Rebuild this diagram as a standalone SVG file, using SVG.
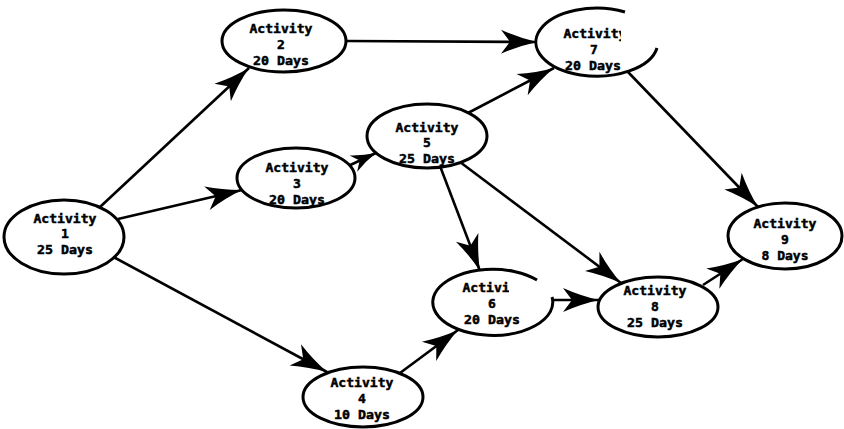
<svg xmlns="http://www.w3.org/2000/svg" width="844" height="429" viewBox="0 0 844 429">
  <style>
    .edge { fill: none; stroke: #000; stroke-width: 2.6; marker-end: url(#head); }
    .edge.short { marker-end: url(#head-sm); }
    .shape { fill: #fff; stroke: #000; stroke-width: 3; }
    .bg { fill: #fff; stroke: none; }
    .rim { fill: none; stroke: #000; stroke-width: 3; }
    text { font-family: "DejaVu Sans Mono", "Liberation Mono", monospace; font-weight: bold; font-size: 13px; text-anchor: middle; fill: #000; stroke: #000; stroke-width: 0.5; }
  </style>
  <defs>
    <marker id="head" markerUnits="userSpaceOnUse" viewBox="-40 -14 42 28" markerWidth="42" markerHeight="28" refX="0" refY="0" orient="auto">
      <path d="M0,0 Q-18,-4 -36,-12 L-27,0 L-36,12 Q-18,4 0,0 Z" fill="#000"/>
    </marker>
    <marker id="head-sm" markerUnits="userSpaceOnUse" viewBox="-30 -11 32 22" markerWidth="32" markerHeight="22" refX="0" refY="0" orient="auto">
      <path d="M0,0 Q-13,-3 -25,-9 L-18,0 L-25,9 Q-13,3 0,0 Z" fill="#000"/>
    </marker>
    <clipPath id="cut7"><rect x="540" y="20" width="81" height="25"/></clipPath>
    <clipPath id="cut6"><rect x="450" y="275" width="59" height="25"/></clipPath>
  </defs>

  <rect width="844" height="429" fill="#fff"/>

  <!-- precedence arrows -->
  <g id="connectors">
    <line class="edge" x1="100" y1="207" x2="249" y2="68"/>
    <line class="edge" x1="118" y1="219" x2="242" y2="190"/>
    <line class="edge" x1="108" y1="254" x2="327" y2="372"/>
    <line class="edge" x1="346" y1="41" x2="537" y2="42"/>
    <line class="edge short" x1="346" y1="167" x2="376" y2="153"/>
    <line class="edge" x1="468" y1="113" x2="554" y2="68"/>
    <line class="edge" x1="440" y1="166" x2="480" y2="271"/>
    <line class="edge" x1="460" y1="162" x2="621" y2="283"/>
    <line class="edge" x1="628" y1="72" x2="758" y2="207"/>
    <line class="edge" x1="400" y1="373" x2="458" y2="330"/>
    <line class="edge" x1="553" y1="300" x2="599" y2="300"/>
    <line class="edge" x1="703" y1="285" x2="743" y2="259"/>
  </g>

  <g id="activity-1">
    <ellipse class="shape" cx="64" cy="237" rx="60" ry="37"/>
    <text x="65" y="223" textLength="63" lengthAdjust="spacingAndGlyphs">Activity</text>
    <text x="65" y="238">1</text>
    <text x="65" y="254" textLength="56" lengthAdjust="spacingAndGlyphs">25 Days</text>
  </g>

  <g id="activity-2">
    <ellipse class="shape" cx="284" cy="41" rx="62" ry="31"/>
    <text x="281" y="33" textLength="63" lengthAdjust="spacingAndGlyphs">Activity</text>
    <text x="281" y="49">2</text>
    <text x="281" y="65" textLength="56" lengthAdjust="spacingAndGlyphs">20 Days</text>
  </g>

  <g id="activity-3">
    <ellipse class="shape" cx="296" cy="178" rx="59" ry="30"/>
    <text x="297" y="172" textLength="63" lengthAdjust="spacingAndGlyphs">Activity</text>
    <text x="297" y="188">3</text>
    <text x="297" y="204" textLength="56" lengthAdjust="spacingAndGlyphs">20 Days</text>
  </g>

  <g id="activity-4">
    <ellipse class="shape" cx="363" cy="397" rx="60" ry="30"/>
    <text x="362" y="387" textLength="63" lengthAdjust="spacingAndGlyphs">Activity</text>
    <text x="362" y="403">4</text>
    <text x="362" y="419" textLength="56" lengthAdjust="spacingAndGlyphs">10 Days</text>
  </g>

  <g id="activity-5">
    <ellipse class="shape" cx="427" cy="136" rx="60" ry="32"/>
    <text x="427" y="132" textLength="63" lengthAdjust="spacingAndGlyphs">Activity</text>
    <text x="427" y="147">5</text>
    <text x="427" y="163" textLength="56" lengthAdjust="spacingAndGlyphs">25 Days</text>
  </g>

  <!-- outline broken at the upper right -->
  <g id="activity-6">
    <ellipse class="bg" cx="493" cy="303" rx="60" ry="33"/>
    <path class="rim" d="M537,280 A60,33 0 1 0 552,297"/>
    <text x="494" y="292" textLength="63" lengthAdjust="spacingAndGlyphs" clip-path="url(#cut6)">Activity</text>
    <text x="492" y="308">6</text>
    <text x="492" y="324" textLength="56" lengthAdjust="spacingAndGlyphs">20 Days</text>
  </g>

  <g id="activity-7">
    <ellipse class="bg" cx="597" cy="42" rx="61" ry="34"/>
    <path class="rim" d="M625,12 A61,34 0 1 0 657,48"/>
    <text x="595" y="38" textLength="63" lengthAdjust="spacingAndGlyphs" clip-path="url(#cut7)">Activity</text>
    <text x="594" y="54">7</text>
    <text x="593" y="70" textLength="56" lengthAdjust="spacingAndGlyphs">20 Days</text>
  </g>

  <g id="activity-8">
    <ellipse class="shape" cx="658" cy="307" rx="60" ry="30"/>
    <text x="655" y="295" textLength="63" lengthAdjust="spacingAndGlyphs">Activity</text>
    <text x="655" y="311">8</text>
    <text x="655" y="327" textLength="56" lengthAdjust="spacingAndGlyphs">25 Days</text>
  </g>

  <g id="activity-9">
    <ellipse class="shape" cx="785" cy="236" rx="57" ry="33"/>
    <text x="785" y="228" textLength="63" lengthAdjust="spacingAndGlyphs">Activity</text>
    <text x="785" y="244">9</text>
    <text x="785" y="260" textLength="47" lengthAdjust="spacingAndGlyphs">8 Days</text>
  </g>
</svg>
